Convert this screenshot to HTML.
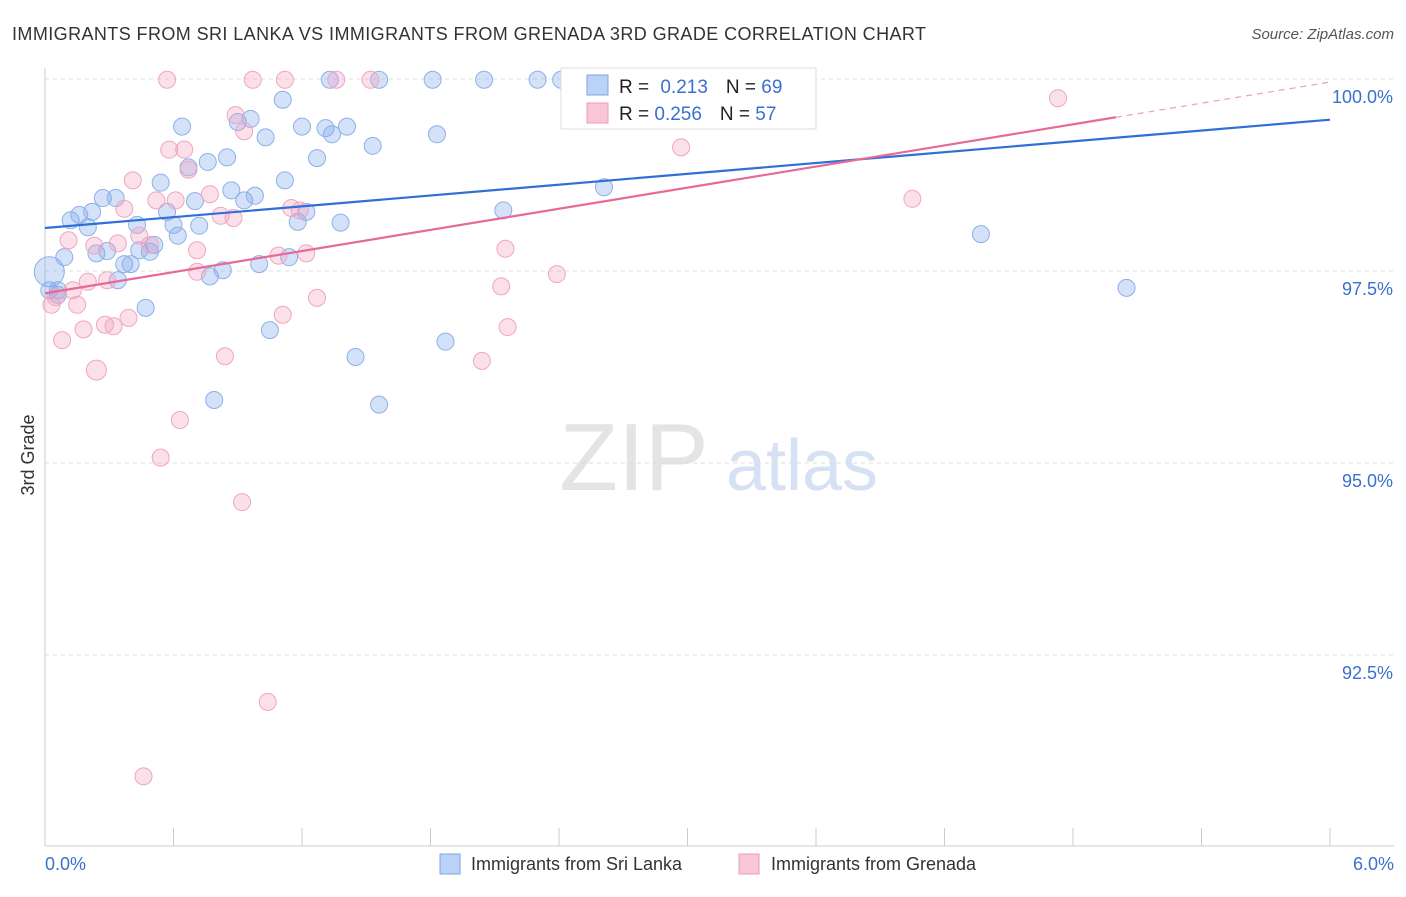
<!DOCTYPE html>
<html><head><meta charset="utf-8"><style>
body{margin:0;background:#fff;font-family:"Liberation Sans",sans-serif;}
svg text{font-family:"Liberation Sans",sans-serif;}
</style></head><body>
<svg id="c" width="1406" height="892" xmlns="http://www.w3.org/2000/svg">
<text x="12" y="40" font-size="18" fill="#333" textLength="914" lengthAdjust="spacing">IMMIGRANTS FROM SRI LANKA VS IMMIGRANTS FROM GRENADA 3RD GRADE CORRELATION CHART</text>
<text x="1394" y="39" font-size="15" fill="#555" text-anchor="end" font-style="italic">Source: ZipAtlas.com</text>
<text x="634" y="490" font-size="96" fill="#e4e4e4" font-family="Liberation Serif" text-anchor="middle">ZIP</text>
<text x="802" y="490" font-size="72" fill="#d6e2f3" text-anchor="middle">atlas</text>
<text x="34" y="455" font-size="18" fill="#333" text-anchor="middle" transform="rotate(-90 34 455)">3rd Grade</text>
<g id="grid"></g><g id="axes"></g><g id="pts"></g><g id="lines"></g>
<g>
<rect x="561" y="68" width="255" height="61" fill="#fff" stroke="#ddd"/>
<rect x="587" y="75" width="21" height="20" fill="#b9d2f5" stroke="#7aa6e6"/>
<rect x="587" y="103" width="21" height="20" fill="#f9c6d6" stroke="#ee9ab5"/>
<text x="619" y="93" font-size="19" fill="#222">R = <tspan fill="#3b6fd0" dx="6">0.213</tspan><tspan dx="18" fill="#222">N = </tspan><tspan fill="#3b6fd0">69</tspan></text>
<text x="619" y="120" font-size="19" fill="#222">R = <tspan fill="#3b6fd0">0.256</tspan><tspan dx="18" fill="#222">N = </tspan><tspan fill="#3b6fd0">57</tspan></text>
</g>
<g>
<rect x="440" y="854" width="20" height="20" fill="#b9d2f5" stroke="#7aa6e6"/>
<text x="471" y="870" font-size="18" fill="#333">Immigrants from Sri Lanka</text>
<rect x="739" y="854" width="20" height="20" fill="#f9c6d6" stroke="#ee9ab5"/>
<text x="771" y="870" font-size="18" fill="#333">Immigrants from Grenada</text>
</g>
</svg>
<script>
const yTicks=[100,97.5,95,92.5];
const yTickLabels=["100.0%","97.5%","95.0%","92.5%"];
const xTickLabels=["0.0%","6.0%"];
const blueX=[0.02,0.09,0.06,0.12,0.16,0.20,0.22,0.27,0.33,0.24,0.29,0.37,0.40,0.34,0.43,0.47,0.44,0.49,0.51,0.54,0.57,0.60,0.62,0.64,0.67,0.70,0.72,0.76,0.77,0.83,0.85,0.87,0.90,0.93,0.96,0.98,1.00,1.03,1.05,1.11,1.12,1.14,1.18,1.20,1.22,1.27,1.31,1.33,1.34,1.38,1.41,1.45,1.53,1.56,1.56,1.81,1.83,1.87,2.05,2.14,2.30,2.41,2.61,0.79,4.37,5.05,0.06,0.02];
const blueY=[97.49,97.68,97.25,98.16,98.23,98.07,98.27,98.45,98.45,97.73,97.76,97.59,97.59,97.38,98.10,97.02,97.77,97.75,97.84,98.65,98.27,98.10,97.96,99.38,98.85,98.41,98.09,98.92,97.43,97.51,98.98,98.55,99.44,98.42,99.48,98.48,97.59,99.24,96.73,99.73,98.68,97.68,98.14,99.38,98.27,98.97,99.36,99.99,99.28,98.13,99.38,96.38,99.13,99.99,95.76,99.99,99.28,96.58,99.99,98.29,99.99,99.99,98.59,95.82,97.98,97.28,97.19,97.25];
const pinkX=[0.03,0.05,0.08,0.11,0.13,0.15,0.18,0.20,0.23,0.24,0.28,0.29,0.32,0.34,0.37,0.39,0.41,0.44,0.49,0.52,0.54,0.46,0.57,0.58,0.61,0.63,0.65,0.67,0.71,0.71,0.77,0.82,0.84,0.88,0.89,0.92,0.93,0.97,1.04,1.09,1.11,1.12,1.15,1.22,1.27,1.36,1.52,2.04,2.13,2.15,2.16,2.39,2.72,2.97,4.05,4.73,1.19];
const pinkY=[97.06,97.16,96.60,97.90,97.25,97.06,96.74,97.36,97.83,96.21,96.80,97.38,96.78,97.86,98.31,96.89,98.68,97.96,97.84,98.42,95.07,90.92,99.99,99.08,98.42,95.56,99.08,98.82,97.49,97.77,98.50,98.22,96.39,98.19,99.53,94.49,99.32,99.99,91.89,97.70,96.93,99.99,98.32,97.73,97.15,99.99,99.99,96.33,97.30,97.79,96.77,97.46,99.99,99.11,98.44,99.75,98.29];
const blueTrend=[98.06,99.47];
const pinkTrend=[97.21,99.96];
const X=v=>45+v/6*1285, Y=v=>79+(100-v)*76.8;
const NS="http://www.w3.org/2000/svg";
function mk(p,t,a){const e=document.createElementNS(NS,t);for(const k in a)e.setAttribute(k,a[k]);document.getElementById(p).appendChild(e);return e;}
yTicks.forEach((t,i)=>{
 const g=mk('grid','line',{x1:45,x2:1394,y1:Y(t),y2:Y(t),stroke:'#ddd','stroke-dasharray':'4,4'});
 
 
 const l=mk('axes','text',{x:1393,y:Y(t)+24,'font-size':18,fill:'#3b6fd0','text-anchor':'end'});l.textContent=yTickLabels[i];
 
 
});
const ax=mk('axes','line',{x1:45,x2:45,y1:68,y2:846,stroke:'#ccc'});


const bx=mk('axes','line',{x1:45,x2:1394,y1:846,y2:846,stroke:'#ccc'});


for(let i=0;i<=10;i++){const t=mk('axes','line',{x1:X(i*0.6),x2:X(i*0.6),y1:828,y2:846,stroke:'#ccc'});
 
 }
[[0,'start',45],[6,'end',1394]].forEach((d,i)=>{const l=mk('axes','text',{x:d[2],y:870,'font-size':18,fill:'#3b6fd0','text-anchor':d[1]});l.textContent=xTickLabels[i];
 
 });
function pts(xs,ys,fill,stroke,name){xs.forEach((x,i)=>{let r=(i===0&&name==='blue')?15:8.5;if(name==='pink'&&i===9)r=10;
 const c=mk('pts','circle',{cx:X(x),cy:Y(ys[i]),r:r,fill:fill,stroke:stroke,'stroke-width':1});
 
 });}
pts(blueX,blueY,'rgba(120,165,235,0.32)','#8db0e8','blue');
pts(pinkX,pinkY,'rgba(244,160,190,0.32)','#efa6bf','pink');
const bl=mk('lines','line',{x1:X(0),y1:Y(blueTrend[0]),x2:X(6),y2:Y(blueTrend[1]),stroke:'#2f6fd6','stroke-width':2.2});


const pm=pinkTrend[0]+(pinkTrend[1]-pinkTrend[0])*5/6;
const pl=mk('lines','line',{x1:X(0),y1:Y(pinkTrend[0]),x2:X(5),y2:Y(pm),stroke:'#e56a96','stroke-width':2.2});


const pd=mk('lines','line',{x1:X(5),y1:Y(pm),x2:X(6),y2:Y(pinkTrend[1]),stroke:'#e8a0b8','stroke-width':1.2,'stroke-dasharray':'6,5'});


</script>
</body></html>
